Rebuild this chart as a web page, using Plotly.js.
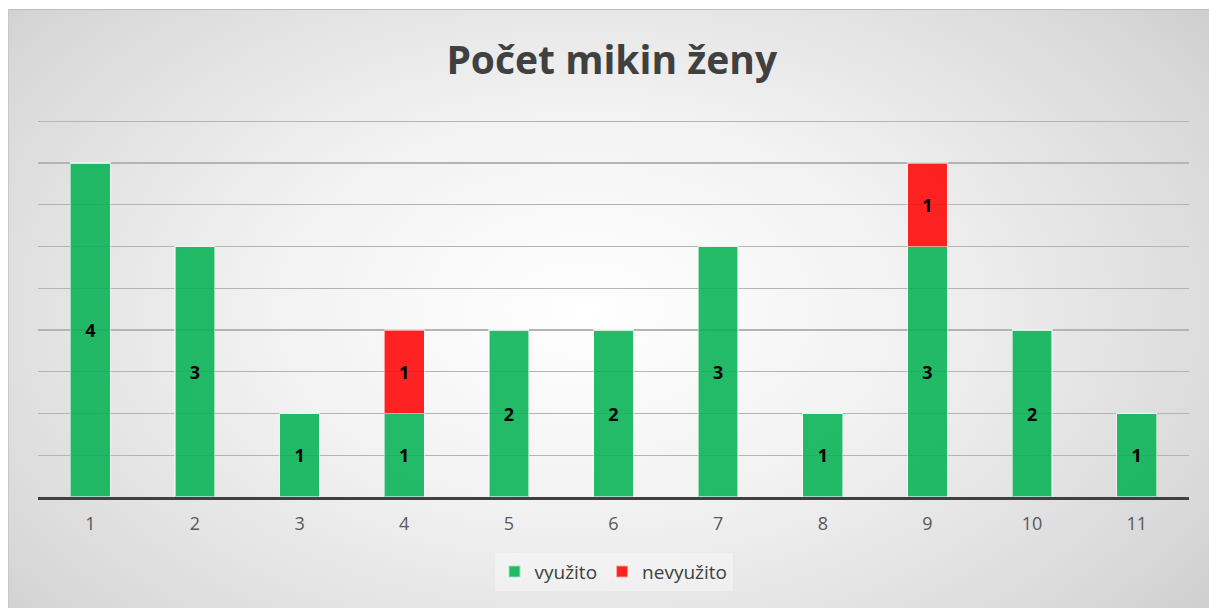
<!DOCTYPE html>
<html>
<head>
<meta charset="utf-8">
<script src="https://cdn.plot.ly/plotly-3.0.1.min.js"></script>
<style>
html,body{margin:0;padding:0;background:#fff;}
#bg{position:absolute;left:8px;top:9px;width:1201px;height:599px;
 background:radial-gradient(ellipse 75% 95% at 48% 50%, #ffffff 0%, #f2f2f2 35%, #d9d9d9 75%, #c3c3c3 100%);
 border-top:1px solid #bdbdbd;border-left:1px solid #c8c8c8;box-sizing:border-box;}
#chart{position:absolute;left:0;top:0;width:1209px;height:608px;}
</style>
</head>
<body>
<div id="bg"></div>
<div id="chart"></div>
<script>
const categories = ['1','2','3','4','5','6','7','8','9','10','11'];
const vyuzito = [4,3,1,1,2,2,3,1,3,2,1];
const nevyuzito = [0,0,0,1,0,0,0,0,1,0,0];
const seriesNames = ['využito','nevyužito'];

function labels(arr){ return arr.map(v => v ? String(v) : ''); }

const common = {
  type:'bar', x:categories, textposition:'inside', insidetextanchor:'middle',
  constraintext:'none', textangle:0,
  textfont:{family:'Open Sans, Noto Sans, sans-serif', size:18, color:'#000', weight:'bold'},
  hoverinfo:'skip'
};
const traces = [
  Object.assign({}, common, {name:seriesNames[0], y:vyuzito, text:labels(vyuzito),
    marker:{color:'rgba(0,176,80,0.86)', line:{color:'rgba(255,255,255,0.55)', width:1.2}}}),
  Object.assign({}, common, {name:seriesNames[1], y:nevyuzito, text:labels(nevyuzito),
    marker:{color:'rgba(255,0,0,0.86)', line:{color:'rgba(255,255,255,0.55)', width:1.2}}})
];

const layout = {
  width:1209, height:608,
  paper_bgcolor:'rgba(0,0,0,0)', plot_bgcolor:'rgba(0,0,0,0)',
  margin:{l:38, r:20, t:113, b:111},
  barmode:'stack', bargap:0.62,
  title:{text:'<b>Počet mikin ženy</b>', x:0.506, xanchor:'center', y:0.9, yanchor:'middle',
    font:{family:'Open Sans, Noto Sans, sans-serif', size:39, color:'#404040'}},
  xaxis:{type:'category', showgrid:false, zeroline:false, showline:true, linecolor:'#404040', linewidth:3,
    ticks:'outside', ticklen:8, tickcolor:'rgba(0,0,0,0)',
    tickfont:{family:'Open Sans, sans-serif', size:18, color:'#595959'}, range:[-0.5,10.5]},
  yaxis:{range:[0,4.6], dtick:0.5, showticklabels:false, showgrid:true, gridcolor:'#b4b4b4', gridwidth:1.3,
    zeroline:false, showline:false, ticks:''},
  showlegend:true,
  legend:{orientation:'h', x:0.5, xanchor:'center', y:-0.145, yanchor:'top',
    bgcolor:'rgba(255,255,255,0.35)', font:{family:'Open Sans, sans-serif', size:19, color:'#404040'},
    itemsizing:'constant', traceorder:'normal'}
};
Plotly.newPlot('chart', traces, layout, {staticPlot:true, displayModeBar:false});
</script>
</body>
</html>
